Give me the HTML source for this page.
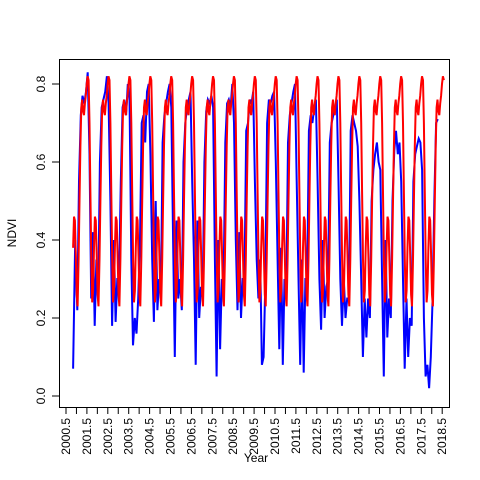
<!DOCTYPE html>
<html><head><meta charset="utf-8"><style>
body{margin:0;background:#fff}
svg{display:block;font-family:"Liberation Sans",Arial,sans-serif}
</style></head><body>
<svg id="chart" width="480" height="480" viewBox="0 0 480 480">
<rect x="0" y="0" width="480" height="480" fill="#fff"/>
<g id="series"></g>
<rect x="59.5" y="59.5" width="390" height="348" fill="none" stroke="#000"/>
<g id="axes"></g>
<text x="256" y="462" font-size="12" text-anchor="middle">Year</text>
<text transform="translate(16,233) rotate(-90)" font-size="12" text-anchor="middle">NDVI</text>
</svg>
<script>
// Red: mean seasonal climatology (23 composites per year, starting at annual trough)
const redClimatology=[0.23,0.35,0.50,0.64,0.74,0.76,0.73,0.72,0.75,0.77,0.80,0.82,0.81,0.70,0.52,0.35,0.24,0.27,0.38,0.46,0.45,0.36,0.26];
const redStart=2000.84, redEnd=2018.6;
// Blue: observed NDVI, 12 values per year starting at trough (year + 0.04)
const blueYears=[2001,2002,2003,2004,2005,2006,2007,2008,2009,2010,2011,2012,2013,2014,2015,2016,2017,2018];
const blueLead=[0.07,0.40];
const blueValues=[
[0.22,0.55,0.72,0.77,0.75,0.78,0.83,0.62,0.25,0.42,0.18,0.35],
[0.25,0.60,0.74,0.76,0.78,0.82,0.75,0.50,0.18,0.40,0.19,0.30],
[0.30,0.55,0.74,0.76,0.72,0.80,0.77,0.35,0.13,0.20,0.16,0.25],
[0.40,0.70,0.72,0.65,0.78,0.80,0.62,0.35,0.19,0.50,0.22,0.30],
[0.25,0.65,0.72,0.75,0.78,0.80,0.74,0.40,0.10,0.45,0.25,0.30],
[0.22,0.60,0.70,0.74,0.76,0.78,0.55,0.35,0.08,0.45,0.20,0.28],
[0.25,0.60,0.73,0.76,0.75,0.77,0.74,0.35,0.05,0.40,0.12,0.30],
[0.28,0.65,0.75,0.76,0.74,0.80,0.70,0.40,0.22,0.42,0.20,0.30],
[0.30,0.68,0.70,0.76,0.75,0.78,0.55,0.35,0.25,0.35,0.08,0.10],
[0.30,0.70,0.76,0.75,0.77,0.78,0.60,0.35,0.12,0.38,0.08,0.30],
[0.25,0.65,0.72,0.75,0.78,0.80,0.55,0.30,0.08,0.35,0.06,0.30],
[0.30,0.68,0.72,0.70,0.74,0.76,0.55,0.30,0.17,0.40,0.20,0.28],
[0.30,0.65,0.70,0.72,0.74,0.76,0.55,0.30,0.18,0.30,0.20,0.25],
[0.25,0.68,0.72,0.70,0.68,0.64,0.50,0.30,0.10,0.25,0.15,0.25],
[0.20,0.50,0.58,0.62,0.65,0.60,0.58,0.30,0.05,0.40,0.15,0.25],
[0.20,0.50,0.63,0.68,0.62,0.65,0.55,0.30,0.07,0.25,0.10,0.20],
[0.18,0.55,0.62,0.64,0.66,0.65,0.58,0.20,0.05,0.08,0.02,0.10],
[0.25,0.50,0.70,0.71]
];
const yTicks=[0,0.2,0.4,0.6,0.8];
const xTickLabels=["2000.5","2001.5","2002.5","2003.5","2004.5","2005.5","2006.5","2007.5","2008.5","2009.5","2010.5","2011.5","2012.5","2013.5","2014.5","2015.5","2016.5","2017.5","2018.5"];

const NS="http://www.w3.org/2000/svg";
function xs(t){return 66+(t-2000.5)*20.9;}
function ys(v){return 396-v*390;}

const series=document.getElementById('series');
const axes=document.getElementById('axes');

// red
let redPts=[];
for(let i=0;;i++){
  const t=redStart+i/23; if(t>redEnd) break;
  const phase=((t-2001.04)%1+1)%1;
  const k=Math.round(phase*23)%23;
  redPts.push(xs(t).toFixed(1)+','+ys(redClimatology[k]).toFixed(1));
}
// blue
let bluePts=[];
blueLead.forEach((v,i)=>bluePts.push(xs(2000.84+i*0.1).toFixed(1)+','+ys(v).toFixed(1)));
blueYears.forEach((yr,i)=>{
  blueValues[i].forEach((v,j)=>{
    bluePts.push(xs(yr+0.04+j/12).toFixed(1)+','+ys(v).toFixed(1));
  });
});
const bl=document.createElementNS(NS,'polyline');
bl.setAttribute('points',bluePts.join(' '));
bl.setAttribute('fill','none');bl.setAttribute('stroke','#0000ff');bl.setAttribute('stroke-width','2');


series.appendChild(bl);
const rl=document.createElementNS(NS,'polyline');
rl.setAttribute('points',redPts.join(' '));
rl.setAttribute('fill','none');rl.setAttribute('stroke','#ff0000');rl.setAttribute('stroke-width','2');


series.appendChild(rl);

// y axis
yTicks.forEach(v=>{
  const y=ys(v);
  const l=document.createElementNS(NS,'line');
  l.setAttribute('x1',52);l.setAttribute('x2',59.5);l.setAttribute('y1',y);l.setAttribute('y2',y);l.setAttribute('stroke','#000');
  
  
  axes.appendChild(l);
  const tx=document.createElementNS(NS,'text');
  tx.setAttribute('transform','translate(45,'+y+') rotate(-90)');
  tx.setAttribute('font-size','12');tx.setAttribute('text-anchor','middle');
  tx.textContent=v.toFixed(1);
  
  
  axes.appendChild(tx);
});
// x axis
for(let k=0;k<=36;k++){
  const x=xs(2000.5+k*0.5);
  const l=document.createElementNS(NS,'line');
  l.setAttribute('x1',x);l.setAttribute('x2',x);l.setAttribute('y1',407.5);l.setAttribute('y2',414);l.setAttribute('stroke','#000');
  
  
  axes.appendChild(l);
}
xTickLabels.forEach((s,i)=>{
  const x=xs(2000.5+i);
  const tx=document.createElementNS(NS,'text');
  tx.setAttribute('transform','translate('+(x+4)+',418) rotate(-90)');
  tx.setAttribute('font-size','12');tx.setAttribute('text-anchor','end');
  tx.textContent=s;
  
  
  axes.appendChild(tx);
});
</script>
</body></html>
